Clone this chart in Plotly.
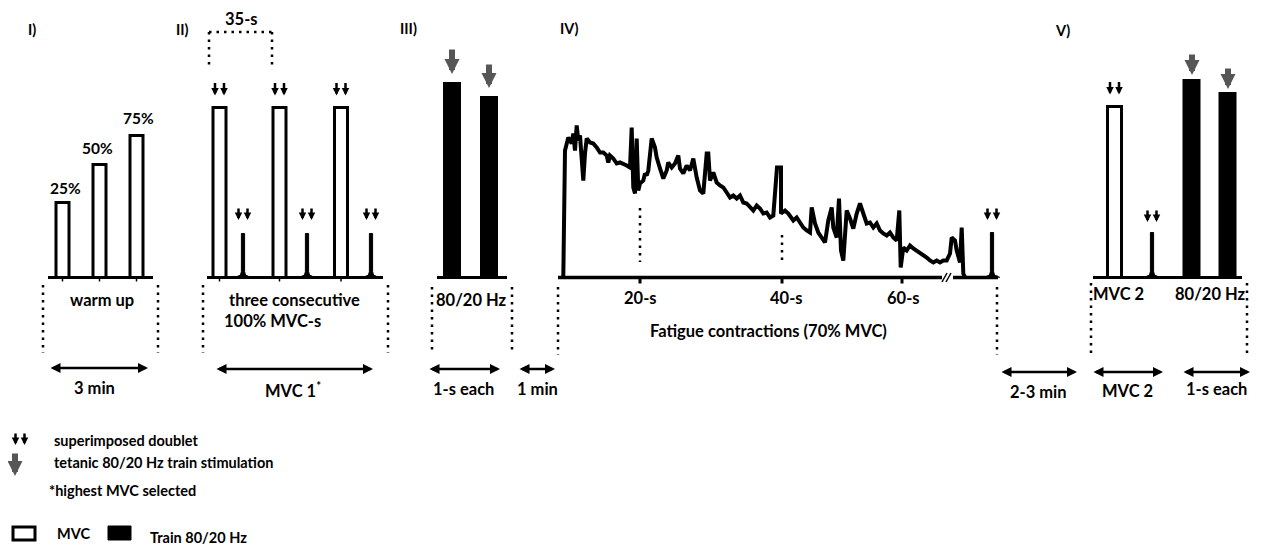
import plotly.graph_objects as go

# ---------------- data (force in arbitrary units above each baseline) ----------------
warmup_labels = ["25%", "50%", "75%"]
warmup_force = [75, 113, 142]

mvc1_force = [170, 170, 170]
mvc1_doublet_force = [44, 44, 44]

train1_labels = ["80 Hz", "20 Hz"]
train1_force = [194, 180]

fatigue_time = [563.3, 565, 568.3, 571.7, 573.3, 575, 576.7, 578.3, 580, 583.3, 585, 586.7, 590,
                593.3, 596.7, 600, 603.3, 606.7, 608.3, 610, 613.3, 616.7, 620, 623.3, 626.7, 630,
                631.7, 633.3, 635, 636.7, 638.3, 640, 643.3, 645, 646.7, 648.3, 651.7, 655, 656.7,
                660, 663.3, 666.7, 668.3, 671.7, 675, 678.3, 680, 683.3, 686.7, 690, 693.3, 696.7,
                700, 703.3, 706.7, 708.3, 710, 713.3, 716.7, 720, 723.3, 726.7, 730, 733.3, 736.7,
                740, 743.3, 746.7, 750, 753.3, 756.7, 760, 763.3, 766.7, 770, 773.3, 777, 781,
                781, 785, 788.3, 793.3, 796.7, 800, 803.3, 806.7, 810, 811.7, 815, 818.3, 821.7,
                825, 828.3, 831.7, 833.3, 836.7, 839, 841, 843.3, 845, 846.7, 850, 853.3, 856.7,
                860, 863.3, 866.7, 870, 873.3, 876.7, 880, 883.3, 886.7, 890, 893.3, 896.7, 899.3,
                900.7, 903.3, 906.7, 910, 913.3, 916.7, 920, 923.3, 926.7, 930, 933.3, 936.7, 940,
                943.3, 946.7, 950, 951.7, 955, 956.7, 960, 961.7, 963.3, 965]
fatigue_force = [0, 127, 140, 134, 144, 127, 152, 137, 142, 97, 124, 139, 135,
                 134, 130, 125, 125, 122, 115, 122, 119, 114, 115, 114, 112, 110,
                 150, 90, 84, 139, 87, 94, 97, 104, 102, 107, 139, 130, 120,
                 109, 99, 107, 115, 110, 114, 122, 109, 104, 112, 107, 119, 100,
                 87, 84, 124, 124, 97, 105, 95, 92, 90, 85, 80, 82, 79,
                 82, 75, 74, 70, 67, 72, 69, 64, 65, 60, 62, 110, 110,
                 64, 67, 64, 57, 60, 55, 50, 47, 45, 70, 54, 45, 40,
                 35, 57, 70, 50, 40, 79, 27, 17, 50, 67, 59, 49, 64,
                 74, 64, 54, 55, 50, 54, 47, 44, 42, 45, 40, 37, 67,
                 10, 30, 27, 32, 29, 27, 24, 22, 20, 17, 15, 17, 15,
                 17, 17, 24, 40, 37, 27, 15, 50, 4, 0]
fatigue_tick_labels = ["20-s", "40-s", "60-s"]
post_fatigue_doublet_force = [45]

mvc2_force = [171]
mvc2_doublet_force = [45]
train2_force = [197, 184]

# ---------------- layout constants (pixel positions) ----------------
W, H = 1261, 550
OFF = 8            # page body margin
BASE = 277.5
FONT = "Lato"
GRAY = "#565656"
FS = 16.5
PANEL_FS = 14.5
LEG_FS = 14.5

warmup_x = [62.5, 99.5, 136.5]
warmup_label_pos = [(65, 188), (97, 148), (138, 118)]
mvc1_x = [219.5, 279.5, 341]
mvc1_spike_x = [243, 307, 371]
train1_x = [452, 489]
train1_arrow = [(452, 48, 74), (489, 63, 88)]
fatigue_tick_x = [640, 782, 902]
fatigue_label_x = [640, 786, 903]
post_spike_x = [992]
mvc2_x = [1114.5]
mvc2_spike_x = [1152]
train2_x = [1191.5, 1227.5]
train2_arrow = [(1192, 53, 75), (1228, 67, 89)]


def yv(p):
    return BASE - p


fig = go.Figure()


def bars(xs, hs, w, fill):
    fig.add_trace(go.Bar(x=xs, y=hs, width=w, base=0,
                         marker=dict(color=fill, line=dict(color="black", width=3)),
                         showlegend=False, hoverinfo="skip"))


def spike(c, h):
    fig.add_trace(go.Scatter(
        x=[c - 8, c - 2.5, c - 1.6, c - 1.6, c + 1.6, c + 1.6, c + 2.5, c + 8],
        y=[0, 2.5, 6, h, h, 6, 2.5, 0], fill="toself", fillcolor="black",
        mode="lines", line=dict(color="black", width=1), showlegend=False, hoverinfo="skip"))


def txt(x, p, s, size=FS, anchor="center"):
    fig.add_annotation(x=x, y=yv(p), xref="x", yref="y", text=f"<b>{s}</b>", showarrow=False,
                       font=dict(family=FONT, size=size, color="black"),
                       xanchor=anchor, yanchor="middle")


def down_arrow(x, p_tail, p_tip, width, size, color):
    fig.add_annotation(x=x, y=yv(p_tip), ax=x, ay=yv(p_tail), xref="x", yref="y",
                       axref="x", ayref="y", text="", showarrow=True, arrowhead=2,
                       arrowsize=size, arrowwidth=width, arrowcolor=color,
                       standoff=0, startstandoff=0)


def doublet(c, p_tail, p_tip):
    for dx in (-4.5, 4.5):
        down_arrow(c + dx, p_tail, p_tip, 2.5, 0.6, "black")


def train_arrow(x, p_tail, p_tip):
    down_arrow(x, p_tail, p_tip, 6, 0.5, GRAY)


def h_arrow(x0, x1, p):
    fig.add_annotation(x=x1, y=yv(p), ax=x0, ay=yv(p), xref="x", yref="y", axref="x",
                       ayref="y", text="", showarrow=True, arrowhead=2, arrowside="end+start",
                       arrowsize=0.8, arrowwidth=2.5, arrowcolor="black",
                       standoff=0, startstandoff=0)


def line(x0, p0, x1, p1, width=3, dash="solid"):
    fig.add_shape(type="line", x0=x0, y0=yv(p0), x1=x1, y1=yv(p1), xref="x", yref="y",
                  line=dict(color="black", width=width, dash=dash), layer="above")


def dotted(x0, p0, x1, p1):
    line(x0, p0, x1, p1, width=2.5, dash="2.5px,5px")


# ---------------- Panel I: warm up ----------------
bars(warmup_x, warmup_force, 13, "white")
for (lx, lp), lab in zip(warmup_label_pos, warmup_labels):
    txt(lx, lp, lab, size=15.5)
line(48, BASE, 153, BASE)
for x in warmup_x:
    line(x, BASE, x, BASE + 4, width=1.5)
dotted(43, 285, 43, 353)
dotted(158, 285, 158, 353)
txt(102, 300, "warm up")
h_arrow(49, 148, 368)
txt(94, 388, "3 min")
txt(32, 29, "I)", size=PANEL_FS)

# ---------------- Panel II: MVC 1 ----------------
bars(mvc1_x, mvc1_force, 13, "white")
for c, h in zip(mvc1_spike_x, mvc1_doublet_force):
    spike(c, h)
    doublet(c, 207, 220)
for c, h in zip(mvc1_x, mvc1_force):
    doublet(c, BASE - h - 26, BASE - h - 12)
line(207, BASE, 383, BASE)
for x in mvc1_x:
    line(x, BASE, x, BASE + 4, width=1.5)
dotted(209, 32, 272, 32)
dotted(209, 32, 209, 68)
dotted(272, 32, 272, 68)
txt(241, 19, "35-s")
dotted(203, 285, 203, 353)
dotted(388, 285, 388, 353)
txt(294, 300, "three consecutive")
txt(272, 321, "100% MVC-s")
h_arrow(215, 373, 369)
txt(293, 390, "MVC 1<sup>*</sup>")
txt(182, 29, "II)", size=PANEL_FS)

# ---------------- Panel III: trains ----------------
bars(train1_x, train1_force, 15, "black")
for ax_, pt, pp in train1_arrow:
    train_arrow(ax_, pt, pp)
line(437, BASE, 507, BASE)
dotted(432, 287, 432, 353)
dotted(512, 287, 512, 353)
txt(471, 300, "80/20 Hz")
h_arrow(428, 500, 369)
txt(463, 389, "1-s each")
h_arrow(518, 555, 369)
txt(537, 389, "1 min")
txt(408, 28, "III)", size=PANEL_FS)

# ---------------- Panel IV: fatigue ----------------
fig.add_trace(go.Scatter(x=fatigue_time, y=fatigue_force, mode="lines",
                         line=dict(color="black", width=4), showlegend=False,
                         hoverinfo="skip"))
for c, h in zip(post_spike_x, post_fatigue_doublet_force):
    spike(c, h)
    doublet(c, 207, 220)
line(558, BASE, 942, BASE, width=3.5)
line(953, BASE, 998, BASE, width=3.5)
line(942, 282, 947, 273, width=1.5)
line(946, 282, 951, 273, width=1.5)
for x in fatigue_tick_x:
    line(x, BASE, x, BASE + 6, width=3)
for x, lab in zip(fatigue_label_x, fatigue_tick_labels):
    txt(x, 298, lab)
txt(768, 331, "Fatigue contractions (70% MVC)")
dotted(558, 287, 558, 355)
dotted(997, 287, 997, 355)
dotted(640, 208, 640, 262)
dotted(782, 235, 782, 263)
txt(569, 28, "IV)", size=PANEL_FS)

# ---------------- Panel V: MVC 2 + trains ----------------
bars(mvc2_x, mvc2_force, 14, "white")
for c, h in zip(mvc2_x, mvc2_force):
    doublet(c, BASE - h - 26, BASE - h - 12)
for c, h in zip(mvc2_spike_x, mvc2_doublet_force):
    spike(c, h)
    doublet(c, 209, 222)
bars(train2_x, train2_force, 15, "black")
for ax_, pt, pp in train2_arrow:
    train_arrow(ax_, pt, pp)
line(1093, BASE, 1242, BASE)
dotted(1091, 283, 1091, 353)
dotted(1247, 283, 1247, 353)
txt(1118, 294, "MVC 2")
txt(1210, 294, "80/20 Hz")
h_arrow(1000, 1077, 372)
txt(1038, 392, "2-3 min")
h_arrow(1092, 1163, 372)
txt(1127, 391, "MVC 2")
h_arrow(1182, 1250, 372)
txt(1216, 389, "1-s each")
txt(1062, 30, "V)", size=PANEL_FS)

# ---------------- legend ----------------
doublet(20, 432, 445)
txt(52, 440, "superimposed doublet", size=LEG_FS, anchor="left")
train_arrow(15, 452, 476)
txt(52, 462, "tetanic 80/20 Hz train stimulation", size=LEG_FS, anchor="left")
txt(47, 490, "*highest MVC selected", size=LEG_FS, anchor="left")
fig.add_shape(type="rect", x0=13, x1=35, y0=yv(540), y1=yv(527), xref="x", yref="y",
              line=dict(color="black", width=3), fillcolor="white")
fig.add_shape(type="rect", x0=108, x1=131, y0=yv(540), y1=yv(526), xref="x", yref="y",
              line=dict(color="black", width=1), fillcolor="black")
txt(55, 533, "MVC", size=LEG_FS, anchor="left")
txt(148, 537, "Train 80/20 Hz", size=LEG_FS, anchor="left")

fig.update_layout(
    width=W - OFF, height=H - OFF, margin=dict(l=0, r=0, t=0, b=0),
    paper_bgcolor="white", plot_bgcolor="white", barmode="overlay", showlegend=False,
    xaxis=dict(range=[OFF, W], visible=False, fixedrange=True),
    yaxis=dict(range=[BASE - H, BASE - OFF], visible=False, fixedrange=True),
)
fig.write_html("out.html")
